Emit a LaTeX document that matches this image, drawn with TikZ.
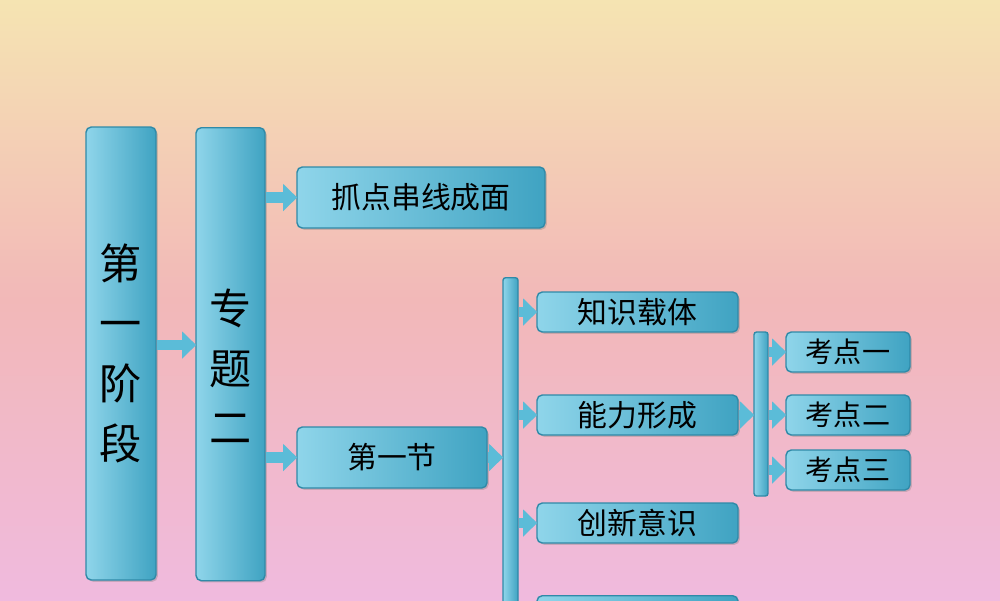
\documentclass[tikz,border=0pt]{standalone}
\usepackage{fontspec}
\newfontfamily\cjk{Noto Sans CJK SC}
\usetikzlibrary{arrows.meta,shadows}
\definecolor{boxL}{HTML}{8FD5EA}
\definecolor{boxR}{HTML}{3FA3C2}
\definecolor{boxE}{HTML}{2F8AA8}
\definecolor{arr}{HTML}{5BBCD8}
\tikzset{
  bx/.style={draw=boxE, line width=0.8pt, rounded corners=3pt, left color=boxL, right color=boxR,
    drop shadow={shadow xshift=1pt,shadow yshift=-1pt,opacity=0.35}, inner sep=0pt, font=\cjk, text=black},
  bar/.style={draw=boxE, line width=0.8pt, rounded corners=1.5pt, left color=boxL, right color=boxR, inner sep=0pt},
  conn/.style={draw=arr, line width=6pt, -{Triangle[length=8pt,width=15pt,fill=arr]}, shorten >=-0.5pt},
}
\begin{document}
\begin{tikzpicture}[x=0.02cm,y=-0.02cm]
\useasboundingbox (0,0) rectangle (1000,600);
\clip (0,0) rectangle (1000,600);
\shade[top color={rgb,255:red,245;green,228;blue,178}, bottom color={rgb,255:red,242;green,184;blue,184}] (0,0) rectangle (1000,300);
\shade[top color={rgb,255:red,242;green,184;blue,184}, bottom color={rgb,255:red,240;green,186;blue,222}] (0,300) rectangle (1000,600);
% big columns
\node[bx, minimum width=70*0.02cm, minimum height=453*0.02cm, font=\cjk\fontsize{24}{34}\selectfont, align=center] (A) at (121,353.5) {第\\一\\阶\\段};
\node[bx, minimum width=69*0.02cm, minimum height=453*0.02cm, font=\cjk\fontsize{24}{34}\selectfont, align=center, anchor=north] (B) at (230.5,127) {\\专\\题\\二};
\node[bx, minimum width=248*0.02cm, minimum height=61*0.02cm, font=\cjk\fontsize{17}{20}\selectfont] (C) at (421,197.5) {抓点串线成面};
\node[bx, minimum width=190*0.02cm, minimum height=61*0.02cm, font=\cjk\fontsize{17}{20}\selectfont] (D) at (392,457.5) {第一节};
\node[bar, minimum width=15*0.02cm, minimum height=340*0.02cm, anchor=north] (V1) at (510.5,277) {};
\node[bx, minimum width=201*0.02cm, minimum height=40*0.02cm, font=\cjk\fontsize{17}{20}\selectfont] (E1) at (637.5,312) {知识载体};
\node[bx, minimum width=201*0.02cm, minimum height=40*0.02cm, font=\cjk\fontsize{17}{20}\selectfont] (E2) at (637.5,415) {能力形成};
\node[bx, minimum width=201*0.02cm, minimum height=40*0.02cm, font=\cjk\fontsize{17}{20}\selectfont] (E3) at (637.5,523) {创新意识};
\node[bx, minimum width=201*0.02cm, minimum height=40*0.02cm, anchor=north] (E4) at (637.5,595) {};
\node[bar, minimum width=14*0.02cm, minimum height=164*0.02cm] (V2) at (761,414) {};
\node[bx, minimum width=124*0.02cm, minimum height=40*0.02cm, font=\cjk\fontsize{16}{20}\selectfont] (K1) at (848,352) {考点一};
\node[bx, minimum width=124*0.02cm, minimum height=40*0.02cm, font=\cjk\fontsize{16}{20}\selectfont] (K2) at (848,415) {考点二};
\node[bx, minimum width=124*0.02cm, minimum height=40*0.02cm, font=\cjk\fontsize{16}{20}\selectfont] (K3) at (848,470) {考点三};
% connectors
\draw[conn] (A.east|-0,345) -- (B.west|-0,345);
\draw[conn] (B.east|-C.west) -- (C.west);
\draw[conn] (B.east|-D.west) -- (D.west);
\draw[conn] (D.east) -- (V1.west|-D.east);
\foreach \t in {E1,E2,E3} \draw[conn] (V1.east|-\t.west) -- (\t.west);
\draw[conn] (E2.east) -- (V2.west|-E2.east);
\foreach \t in {K1,K2,K3} \draw[conn] (V2.east|-\t.west) -- (\t.west);
\end{tikzpicture}
\end{document}
